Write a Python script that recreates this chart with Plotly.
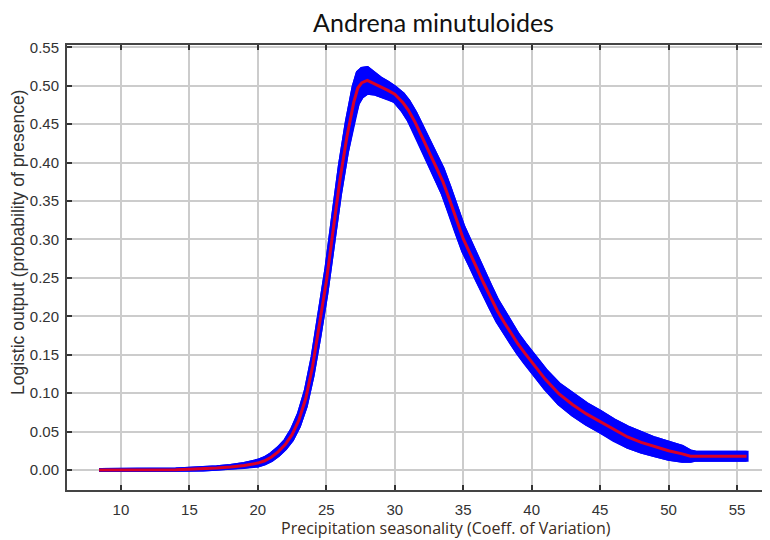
import plotly.graph_objects as go

# Data
x_vals = [8.4, 10, 12, 14, 15, 16, 17, 18, 19, 20, 20.5, 21, 21.5, 22, 22.5, 23, 23.5, 24,
          24.5, 25, 25.5, 26, 26.5, 27, 27.3, 27.6, 28, 28.5, 29, 29.5, 30, 30.6, 31, 31.5,
          32, 32.5, 33, 33.5, 34, 34.5, 35, 35.5, 36, 36.5, 37, 37.5, 38, 38.5, 39, 39.5,
          40, 41, 42, 43, 44, 45, 46, 47, 48, 49, 50, 51, 51.6, 52, 55.7]
mean_vals = [0.0, 0.0, 0.0, 0.0005, 0.001, 0.0015, 0.0025, 0.004, 0.006, 0.009, 0.012, 0.017,
             0.024, 0.033, 0.046, 0.065, 0.093, 0.135, 0.188, 0.245, 0.312, 0.378, 0.433,
             0.478, 0.497, 0.504, 0.507, 0.503, 0.498, 0.494, 0.489, 0.478, 0.468, 0.452,
             0.433, 0.414, 0.395, 0.376, 0.352, 0.325, 0.301, 0.282, 0.262, 0.243, 0.225,
             0.207, 0.192, 0.178, 0.164, 0.152, 0.141, 0.118, 0.099, 0.085, 0.073, 0.063,
             0.052, 0.043, 0.036, 0.030, 0.025, 0.021, 0.018, 0.018, 0.018]
sd_vals = [0.0, 0.0, 0.0, 0.0003, 0.0005, 0.0007, 0.001, 0.0014, 0.002, 0.003, 0.0035, 0.004,
           0.0045, 0.005, 0.0065, 0.008, 0.01, 0.012, 0.014, 0.016, 0.018, 0.019, 0.02, 0.021,
           0.02, 0.018, 0.016, 0.013, 0.011, 0.01, 0.009, 0.011, 0.012, 0.013, 0.014, 0.015,
           0.016, 0.016, 0.016, 0.016, 0.016, 0.0155, 0.015, 0.0145, 0.014, 0.0135, 0.013,
           0.0125, 0.012, 0.012, 0.012, 0.012, 0.0125, 0.013, 0.013, 0.013, 0.0128, 0.0125,
           0.012, 0.011, 0.0105, 0.009, 0.006, 0.0045, 0.0045]
x_ticks = [10, 15, 20, 25, 30, 35, 40, 45, 50, 55]
y_ticks = [0.00, 0.05, 0.10, 0.15, 0.20, 0.25, 0.30, 0.35, 0.40, 0.45, 0.50, 0.55]

upper = [m + s for m, s in zip(mean_vals, sd_vals)]
lower = [m - s for m, s in zip(mean_vals, sd_vals)]

BLUE = "#0000ff"
fig = go.Figure()
fig.add_trace(go.Scatter(x=x_vals + x_vals[::-1], y=upper + lower[::-1], fill="toself",
                         fillcolor=BLUE, line=dict(color=BLUE, width=4), mode="lines",
                         hoverinfo="skip", showlegend=False))
fig.add_trace(go.Scatter(x=x_vals, y=upper, mode="lines", line=dict(color=BLUE, width=4),
                         showlegend=False))
fig.add_trace(go.Scatter(x=x_vals, y=lower, mode="lines", line=dict(color=BLUE, width=4),
                         showlegend=False))
fig.add_trace(go.Scatter(x=x_vals, y=mean_vals, mode="lines",
                         line=dict(color="rgba(255,0,0,0.85)", width=3), showlegend=False))

# The page body has an 8px margin, so the figure is offset by 8px right and down.
W, H = 762, 532
L, T, B = 59, 37, 50

tick_font = dict(family="Liberation Sans, Arial, sans-serif", size=15, color="#333333")
fig.update_layout(
    width=W, height=H,
    margin=dict(l=L, r=0, t=T, b=B, autoexpand=False),
    paper_bgcolor="white", plot_bgcolor="white",
    title=dict(text="Andrena minutuloides", x=(433.5 - 8) / W, xanchor="center",
               y=1 - (23 - 8) / H, yanchor="middle",
               font=dict(family="Lato, sans-serif", size=25, color="#111111")),
    xaxis=dict(range=[6.06, 57.41], tickvals=x_ticks, ticktext=[str(v) for v in x_ticks],
               showgrid=True, gridcolor="#cccccc", gridwidth=1.5,
               showline=True, linecolor="#444444", linewidth=2, mirror="ticks",
               ticks="inside", ticklen=5, tickwidth=1.5, tickcolor="#333333",
               tickfont=tick_font, ticklabelstandoff=5, zeroline=False),
    yaxis=dict(range=[-0.026, 0.553], tickvals=y_ticks, ticktext=[f"{v:.2f}" for v in y_ticks],
               showgrid=True, gridcolor="#cccccc", gridwidth=1.5,
               showline=True, linecolor="#444444", linewidth=2,
               ticks="inside", ticklen=5, tickwidth=1.5, tickcolor="#333333",
               tickfont=tick_font, ticklabelstandoff=3, zeroline=False),
    annotations=[
        dict(text="Precipitation seasonality (Coeff. of Variation)", xref="paper", yref="paper",
             x=(445.5 - 67) / 703, y=(490 - 528) / 445, xanchor="center", yanchor="middle",
             showarrow=False, font=dict(family="Open Sans, sans-serif", size=16, color="#3a2a20")),
        dict(text="Logistic output (probability of presence)", xref="paper", yref="paper",
             x=(18 - 67) / 703, y=(490 - 243) / 445, xanchor="center", yanchor="middle",
             textangle=-90, showarrow=False,
             font=dict(family="Liberation Sans, Arial, sans-serif", size=17.5, color="#333333")),
    ],
)
fig.write_html("out.html")
